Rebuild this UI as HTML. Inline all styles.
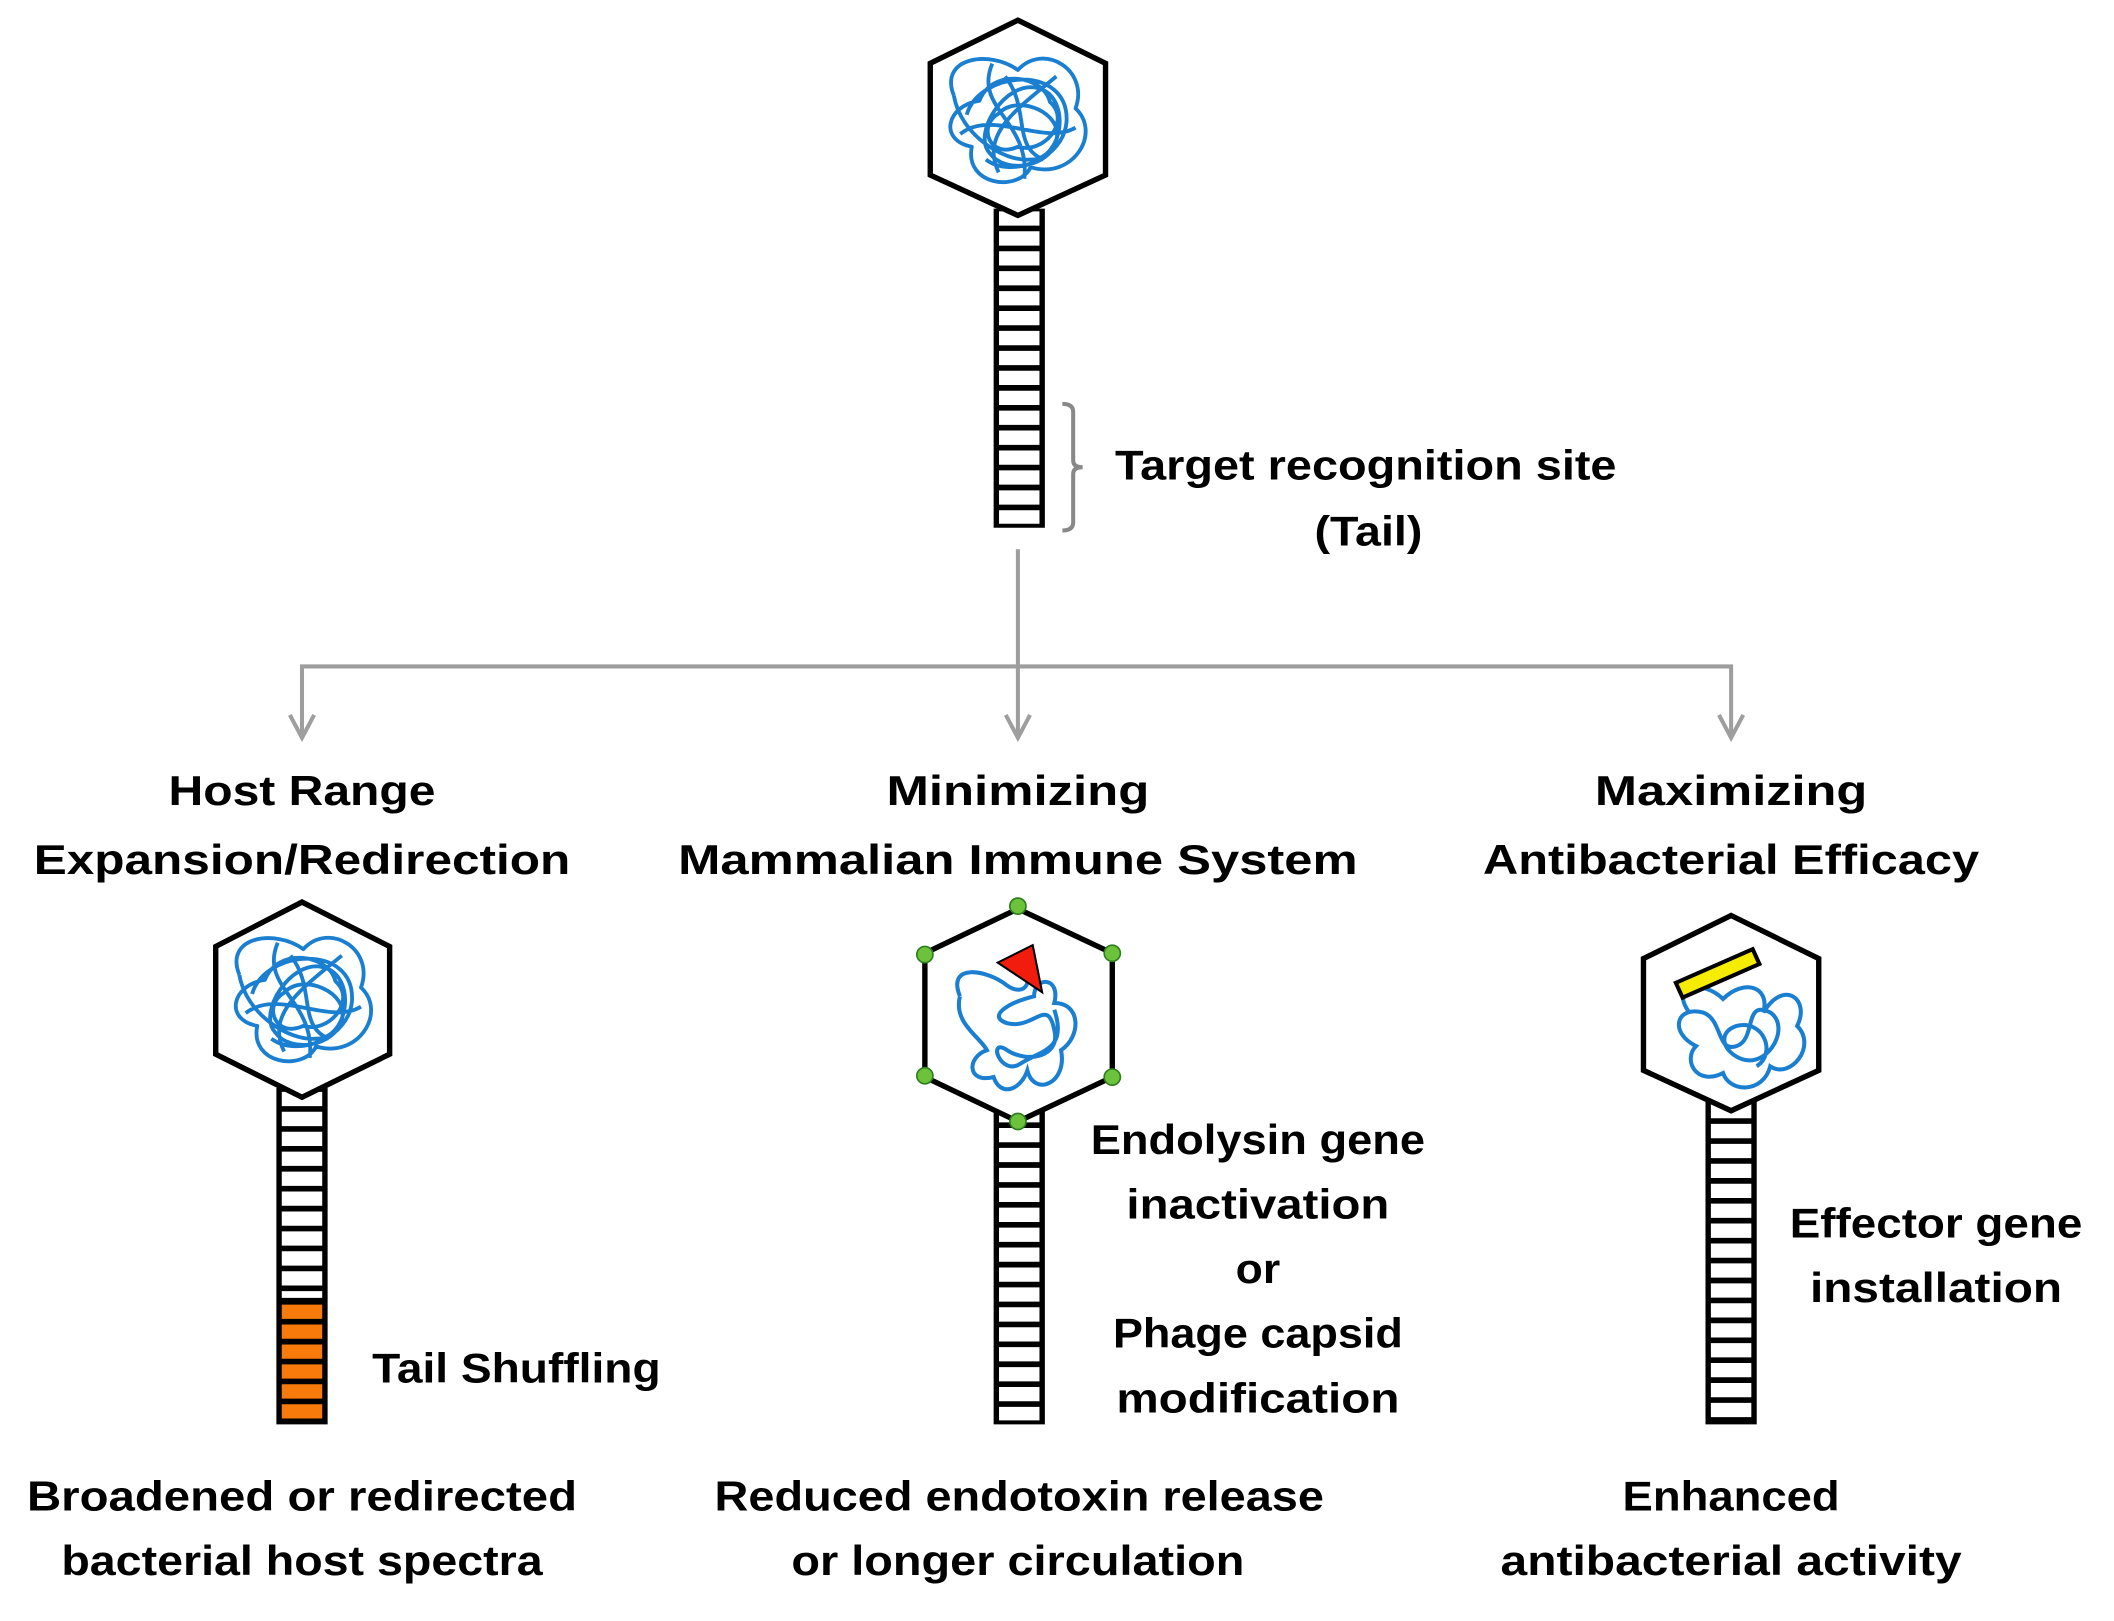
<!DOCTYPE html>
<html><head><meta charset="utf-8"><style>
html,body{margin:0;padding:0;background:#fff;}
svg{display:block;}
text{font-family:"Liberation Sans",sans-serif;font-weight:bold;font-size:31px;fill:#000;text-anchor:middle;}
</style></head><body>
<svg width="2114" height="1621" viewBox="0 0 1568 1204" preserveAspectRatio="none" xmlns="http://www.w3.org/2000/svg">
<defs>
<path id="tangle" fill="none" stroke="#1a7fd0" stroke-width="3" stroke-linejoin="round" d="M-50,-20 C-62,-50 -22,-56 0,-40 C20,-62 56,-40 45,-10 C66,10 42,46 10,36 C0,56 -42,50 -36,20 C-62,15 -56,-12 -30,-16 C-20,-42 20,-36 25,-15 C42,0 20,26 0,20 C-22,30 -32,4 -15,-6 C0,-22 36,-6 30,15 C25,36 -10,42 -22,25 C-36,10 -10,-32 15,-26 C42,-20 36,30 10,30 C-12,32 -45,10 -50,-20 M-40,-5 C-30,-40 40,-45 38,0 C36,30 -5,45 -25,30 M-10,-35 C10,-10 -5,20 20,30 M-45,10 C-20,-10 20,20 45,5 M-20,-45 C-35,-10 10,0 5,45 M30,-35 C0,-10 -30,10 -15,40"/>
<g id="tangle2"><path fill="none" stroke="#1a7fd0" stroke-width="3" d="M-40,-20 C-50,-45 -20,-40 -5,-28 C10,-18 15,-35 5,-40 M-40,-20 C-45,0 -25,10 -20,20 C-35,25 -35,45 -15,40 C-10,55 5,50 10,35 C15,55 40,45 35,20 C50,10 50,-15 30,-15 C35,-35 15,-35 15,-20 C-5,-15 -20,-5 -5,0 C15,5 25,-20 30,5 C35,25 10,30 -5,20 C-20,10 -10,40 5,30 C20,20 40,20 30,-10"/></g>
<g id="tangle3"><path fill="none" stroke="#1a7fd0" stroke-width="3" d="M-35,-10 C-50,-30 -25,-35 -10,-20 C5,-35 25,-30 20,-10 C35,-35 55,-20 45,0 C60,15 40,40 25,30 C20,50 -5,50 -10,35 C-30,45 -40,25 -30,15 C-50,5 -45,-15 -25,-10 C-10,-5 -15,20 0,15 C15,10 5,-20 25,-10 C40,0 25,30 5,25 C-10,20 -15,5 0,0 C20,-5 30,20 15,30"/></g>
</defs>

<!-- top phage -->
<line x1="756" y1="155" x2="756" y2="392" stroke="#000" stroke-width="38"/>
<line x1="756" y1="157" x2="756" y2="389" stroke="#fff" stroke-width="30" stroke-dasharray="10.6 4.2"/>
<polygon points="755,15 820,47 820,130 755,160 690,130 690,47" fill="#fff" stroke="#000" stroke-width="4"/>
<use href="#tangle" transform="translate(755,90) scale(0.95)"/>
<path d="M788,300 q8,0 8,6 v36 q0,5 7,5 q-7,0 -7,5 v36 q0,6 -8,6" fill="none" stroke="#888" stroke-width="3"/>
<text x="1013" y="356" textLength="372" lengthAdjust="spacingAndGlyphs">Target recognition site</text>
<text x="1015" y="405" textLength="80" lengthAdjust="spacingAndGlyphs">(Tail)</text>

<!-- connectors -->
<g stroke="#9e9e9e" stroke-width="3" fill="none">
<path d="M755,408 V495 M224,548 V495 H1284 V548 M755,495 V548"/>
<path d="M215,531 L224,548 L233,531 M746,531 L755,548 L764,531 M1275,531 L1284,548 L1293,531"/>
</g>

<!-- headings -->
<text x="224" y="598" textLength="198" lengthAdjust="spacingAndGlyphs">Host Range</text>
<text x="224" y="649" textLength="398" lengthAdjust="spacingAndGlyphs">Expansion/Redirection</text>
<text x="755" y="598" textLength="195" lengthAdjust="spacingAndGlyphs">Minimizing</text>
<text x="755" y="649" textLength="504" lengthAdjust="spacingAndGlyphs">Mammalian Immune System</text>
<text x="1284" y="598" textLength="202" lengthAdjust="spacingAndGlyphs">Maximizing</text>
<text x="1284" y="649" textLength="368" lengthAdjust="spacingAndGlyphs">Antibacterial Efficacy</text>

<!-- left phage -->
<line x1="224" y1="808" x2="224" y2="1058" stroke="#000" stroke-width="38"/>
<line x1="224" y1="811" x2="224" y2="964" stroke="#fff" stroke-width="30" stroke-dasharray="10.6 4.2"/>
<line x1="224" y1="969" x2="224" y2="1055" stroke="#f77a0a" stroke-width="30" stroke-dasharray="10.6 4.2"/>
<polygon points="224,670 289,703 289,783 224,815 160,783 160,703" fill="#fff" stroke="#000" stroke-width="4"/>
<use href="#tangle" transform="translate(225,743) scale(0.95)"/>
<text x="383" y="1027" textLength="214" lengthAdjust="spacingAndGlyphs">Tail Shuffling</text>

<!-- middle phage -->
<line x1="756" y1="820" x2="756" y2="1058" stroke="#000" stroke-width="38"/>
<line x1="756" y1="823" x2="756" y2="1055" stroke="#fff" stroke-width="30" stroke-dasharray="10.6 4.2"/>
<polygon points="755,675 825,708 825,800 755,833 686,800 686,708" fill="#fff" stroke="#000" stroke-width="4"/>
<use href="#tangle2" transform="translate(752,760)"/>
<polygon points="740,715 766,702 773,737" fill="#f21c0c" stroke="#000" stroke-width="1.5"/>
<g fill="#6cc23a" stroke="#2e7d1e" stroke-width="1.2">
<circle cx="755" cy="673" r="6"/><circle cx="686" cy="709" r="6"/><circle cx="825" cy="708" r="6"/>
<circle cx="686" cy="799" r="6"/><circle cx="825" cy="800" r="6"/><circle cx="755" cy="833" r="6"/>
</g>
<text x="933" y="857" textLength="248" lengthAdjust="spacingAndGlyphs">Endolysin gene</text>
<text x="933" y="905" textLength="195" lengthAdjust="spacingAndGlyphs">inactivation</text>
<text x="933" y="953" textLength="33" lengthAdjust="spacingAndGlyphs">or</text>
<text x="933" y="1001" textLength="215" lengthAdjust="spacingAndGlyphs">Phage capsid</text>
<text x="933" y="1049" textLength="210" lengthAdjust="spacingAndGlyphs">modification</text>

<!-- right phage -->
<line x1="1284" y1="815" x2="1284" y2="1058" stroke="#000" stroke-width="38"/>
<line x1="1284" y1="820" x2="1284" y2="1055" stroke="#fff" stroke-width="30" stroke-dasharray="10.6 4.2"/>
<polygon points="1284,680 1349,712 1349,795 1284,825 1219,795 1219,712" fill="#fff" stroke="#000" stroke-width="4"/>
<use href="#tangle3" transform="translate(1288,762)"/>
<polygon points="1243,730 1300,705 1305,716 1248,741" fill="#f5ec00" stroke="#000" stroke-width="3"/>
<text x="1436" y="919" textLength="217" lengthAdjust="spacingAndGlyphs">Effector gene</text>
<text x="1436" y="967" textLength="187" lengthAdjust="spacingAndGlyphs">installation</text>

<!-- bottom -->
<text x="224" y="1122" textLength="408" lengthAdjust="spacingAndGlyphs">Broadened or redirected</text>
<text x="224" y="1170" textLength="357" lengthAdjust="spacingAndGlyphs">bacterial host spectra</text>
<text x="756" y="1122" textLength="452" lengthAdjust="spacingAndGlyphs">Reduced endotoxin release</text>
<text x="755" y="1170" textLength="336" lengthAdjust="spacingAndGlyphs">or longer circulation</text>
<text x="1284" y="1122" textLength="161" lengthAdjust="spacingAndGlyphs">Enhanced</text>
<text x="1284" y="1170" textLength="342" lengthAdjust="spacingAndGlyphs">antibacterial activity</text>
</svg>
</body></html>
